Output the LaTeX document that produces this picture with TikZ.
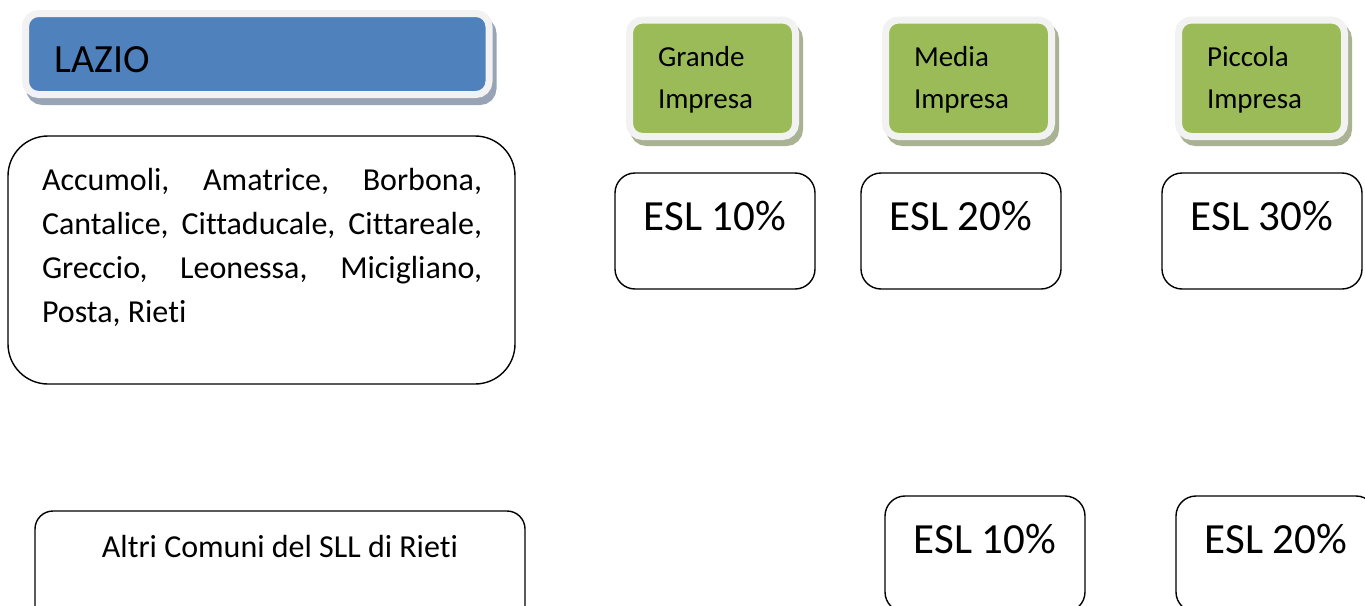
\documentclass[tikz,border=0pt]{standalone}
\usepackage{fontspec}
\setmainfont[Ligatures=NoCommon]{Carlito}
\definecolor{lazblue}{HTML}{4F81BD}
\definecolor{impgreen}{HTML}{9BBB59}
\definecolor{framegray}{HTML}{F2F2F2}
\definecolor{blueshadow}{HTML}{98A4B6}
\definecolor{greenshadow}{HTML}{A9B394}
\hbadness=10000
\begin{document}
\begin{tikzpicture}[x=1pt,y=-1pt,
  every node/.style={outer sep=0pt},
  framed/.style={draw=framegray, line width=7pt, rounded corners=13pt},
  lazbox/.style={framed, fill=lazblue, inner sep=0pt, inner xsep=29pt,
    minimum width=463.5pt, text width=405pt, align=left,
    text height=58.5pt, text depth=22.5pt,
    font=\fontsize{40}{48}\selectfont,
    preaction={fill=blueshadow, draw=blueshadow, line width=7pt,
      transform canvas={xshift=4pt, yshift=-7pt}}},
  impbox/.style={framed, fill=impgreen, inner sep=0pt, inner xsep=28.5pt,
    minimum width=166pt, minimum height=116.5pt, text width=109pt, align=left,
    font=\fontsize{29}{42}\selectfont,
    preaction={fill=greenshadow, draw=greenshadow, line width=7pt,
      transform canvas={xshift=4pt, yshift=-6pt}}},
  imptext/.style={anchor=base west, inner sep=0pt, text width=109pt, align=left,
    font=\fontsize{29}{42}\selectfont},
  eslbox/.style={draw, line width=1.4pt, rounded corners=20pt, inner sep=0pt,
    minimum width=200pt, text height=57pt, text depth=59pt,
    font=\fontsize{43}{50}\selectfont},
  plainbox/.style={draw, line width=1.4pt, inner sep=0pt},
  bodytext/.style={font=\fontsize{32}{44}\selectfont}
]
\clip (0,0) rectangle (1365,605);

% region header
\node[lazbox, anchor=north west] (lazio) at (25.5,13.5) {LAZIO};

% enterprise headers
\node[impbox, anchor=north west] (grande)  at (629.5,20) {};
\node[impbox, anchor=north west] (media)   at (885.5,20) {};
\node[impbox, anchor=north west] (piccola) at (1178.5,20) {};
\node[imptext] (grandetxt)  at ([xshift=28.5pt, yshift=-46pt]grande.north west) {Grande\\Impresa};
\node[imptext] (mediatxt)   at ([xshift=28.5pt, yshift=-46pt]media.north west) {Media\\Impresa};
\node[imptext] (piccolatxt) at ([xshift=28.5pt, yshift=-46pt]piccola.north west) {Piccola\\Impresa};

% first row
\node[plainbox, rounded corners=40pt, anchor=north west,
  minimum width=507pt, minimum height=248pt] (comuni) at (8,136) {};
\node[bodytext, anchor=base west, inner sep=0pt, text width=440pt, align=justify]
  (comunitxt) at (42,190)
  {Accumoli, Amatrice, Borbona,\linebreak Cantalice, Cittaducale, Cittareale,\linebreak Greccio, Leonessa, Micigliano,\linebreak Posta, Rieti};

\node[eslbox, anchor=north west] (g1) at (615,173) {ESL 10\%};
\node[eslbox, anchor=north west] (m1) at (861,173) {ESL 20\%};
\node[eslbox, anchor=north west] (p1) at (1162,173) {ESL 30\%};

% second row
\node[plainbox, rounded corners=18pt, bodytext, anchor=north west,
  minimum width=490pt, text height=46pt, text depth=70pt] (altri) at (35,511)
  {Altri Comuni del SLL di Rieti};
\node[eslbox, anchor=north west] (m2) at (885,496) {ESL 10\%};
\node[eslbox, anchor=north west] (p2) at (1176,496) {ESL 20\%};
\end{tikzpicture}
\end{document}
